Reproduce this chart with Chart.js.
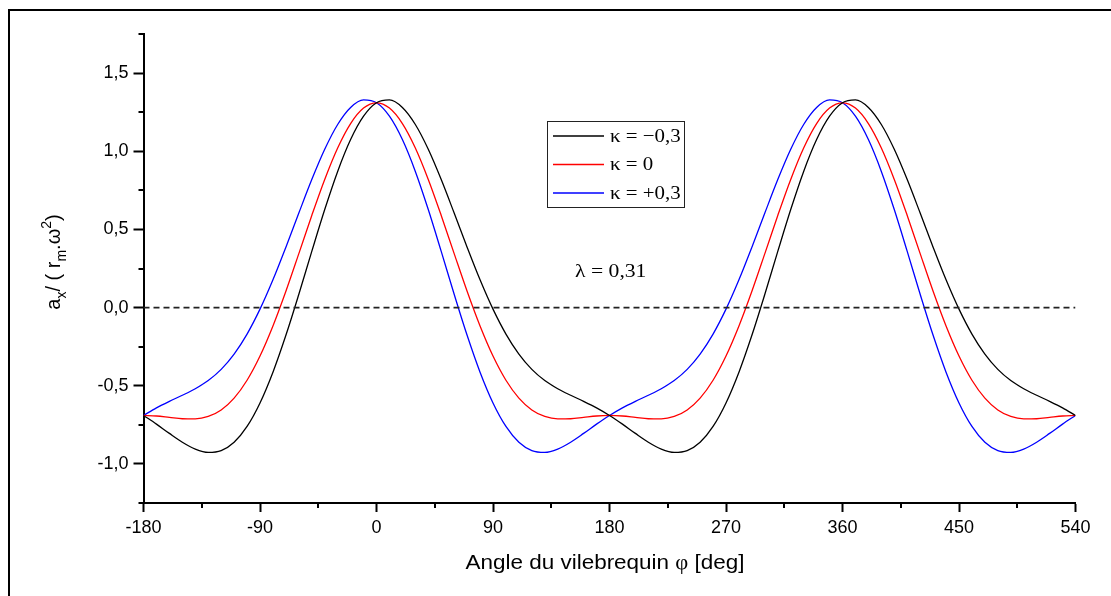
<!DOCTYPE html>
<html>
<head>
<meta charset="utf-8">
<script src="https://cdn.jsdelivr.net/npm/chart.js@4/dist/chart.umd.min.js"></script>
<style>
  html, body { margin: 0; padding: 0; background: #fff; }
  canvas { display: block; }
</style>
</head>
<body>
<canvas id="c" width="1111" height="596" style="width:1111px;height:596px"></canvas>
<script>
// crank angle, deg
const angles = [-180, -170, -160, -150, -140, -130, -120, -110, -100, -90, -80, -70, -60, -50, -40, -30, -20, -10,
  0, 10, 20, 30, 40, 50, 60, 70, 80, 90, 100, 110, 120, 130, 140, 150, 160, 170,
  180, 190, 200, 210, 220, 230, 240, 250, 260, 270, 280, 290, 300, 310, 320, 330, 340, 350,
  360, 370, 380, 390, 400, 410, 420, 430, 440, 450, 460, 470, 480, 490, 500, 510, 520, 530, 540];

// kappa = -0,3
const accNeg = [-0.69, -0.7456, -0.8048, -0.861, -0.905, -0.9264, -0.9148, -0.8614, -0.7603, -0.61, -0.4131, -0.1774, 0.0852, 0.3592, 0.627, 0.871, 1.0746, 1.224,
  1.31, 1.3282, 1.2798, 1.171, 1.0126, 0.8188, 0.6048, 0.3864, 0.1777, -0.01, -0.1695, -0.2976, -0.3952, -0.4668, -0.5194, -0.561, -0.5996, -0.6414,
  -0.69, -0.7456, -0.8048, -0.861, -0.905, -0.9264, -0.9148, -0.8614, -0.7603, -0.61, -0.4131, -0.1774, 0.0852, 0.3592, 0.627, 0.871, 1.0746, 1.224,
  1.31, 1.3282, 1.2798, 1.171, 1.0126, 0.8188, 0.6048, 0.3864, 0.1777, -0.01, -0.1695, -0.2976, -0.3952, -0.4668, -0.5194, -0.561, -0.5996, -0.6414, -0.69];

// kappa = 0
const accZero = [-0.69, -0.6935, -0.7022, -0.711, -0.7122, -0.6966, -0.655, -0.5795, -0.4649, -0.31, -0.1177, 0.1045, 0.345, 0.589, 0.8198, 1.021, 1.1772, 1.2761,
  1.31, 1.2761, 1.1772, 1.021, 0.8198, 0.589, 0.345, 0.1045, -0.1177, -0.31, -0.4649, -0.5795, -0.655, -0.6966, -0.7122, -0.711, -0.7022, -0.6935,
  -0.69, -0.6935, -0.7022, -0.711, -0.7122, -0.6966, -0.655, -0.5795, -0.4649, -0.31, -0.1177, 0.1045, 0.345, 0.589, 0.8198, 1.021, 1.1772, 1.2761,
  1.31, 1.2761, 1.1772, 1.021, 0.8198, 0.589, 0.345, 0.1045, -0.1177, -0.31, -0.4649, -0.5795, -0.655, -0.6966, -0.7122, -0.711, -0.7022, -0.6935, -0.69];

// kappa = +0,3
const accPos = [-0.69, -0.6414, -0.5996, -0.561, -0.5194, -0.4668, -0.3952, -0.2976, -0.1695, -0.01, 0.1777, 0.3864, 0.6048, 0.8188, 1.0126, 1.171, 1.2798, 1.3282,
  1.31, 1.224, 1.0746, 0.871, 0.627, 0.3592, 0.0852, -0.1774, -0.4131, -0.61, -0.7603, -0.8614, -0.9148, -0.9264, -0.905, -0.861, -0.8048, -0.7456,
  -0.69, -0.6414, -0.5996, -0.561, -0.5194, -0.4668, -0.3952, -0.2976, -0.1695, -0.01, 0.1777, 0.3864, 0.6048, 0.8188, 1.0126, 1.171, 1.2798, 1.3282,
  1.31, 1.224, 1.0746, 0.871, 0.627, 0.3592, 0.0852, -0.1774, -0.4131, -0.61, -0.7603, -0.8614, -0.9148, -0.9264, -0.905, -0.861, -0.8048, -0.7456, -0.69];

const xTicks = [-180, -90, 0, 90, 180, 270, 360, 450, 540];
const xMinor = [-135, -45, 45, 135, 225, 315, 405, 495];
const yTicks = [-1.0, -0.5, 0.0, 0.5, 1.0, 1.5];
const yMinor = [-1.25, -0.75, -0.25, 0.25, 0.75, 1.25, 1.75];

const legendLabels = ['\u03ba = \u22120,3', '\u03ba = 0', '\u03ba = +0,3'];
const colors = ['#000000', '#ff0000', '#0000ff'];

function pts(ys) {
  return angles.map(function (a, i) { return { x: a, y: ys[i] }; });
}

// text a bit wider than the font gives, like the original export
function wideText(ctx, txt, x, y, sx) {
  ctx.save();
  ctx.translate(x, y);
  ctx.scale(sx, 1);
  ctx.fillText(txt, 0, 0);
  ctx.restore();
}

// frame, minor ticks, legend, titles
const decor = {
  id: 'decor',
  beforeDraw: function (chart) {
    const ctx = chart.ctx;
    ctx.save();
    ctx.fillStyle = '#fff';
    ctx.fillRect(0, 0, chart.width, chart.height);
    ctx.restore();
  },
  afterDraw: function (chart) {
    const ctx = chart.ctx;
    const a = chart.chartArea;
    const x = chart.scales.x, y = chart.scales.y;
    ctx.save();
    ctx.fillStyle = '#000';
    ctx.fillRect(8, 9, chart.width - 8, 2);
    ctx.fillRect(8, 9, 2, chart.height - 9);

    // minor ticks
    ctx.strokeStyle = '#000';
    ctx.lineWidth = 2;
    ctx.beginPath();
    xMinor.forEach(function (v) {
      const px = Math.round(x.getPixelForValue(v));
      ctx.moveTo(px, a.bottom); ctx.lineTo(px, a.bottom + 5);
    });
    yMinor.forEach(function (v) {
      const py = Math.round(y.getPixelForValue(v));
      ctx.moveTo(a.left, py); ctx.lineTo(a.left - 5, py);
    });
    ctx.stroke();

    // legend
    ctx.lineWidth = 1;
    ctx.strokeStyle = '#222';
    ctx.strokeRect(547.5, 121.5, 137, 86);
    const rows = [136, 164.5, 193];
    ctx.font = '19px "Liberation Serif", "DejaVu Serif", serif';
    ctx.textBaseline = 'middle';
    ctx.textAlign = 'left';
    rows.forEach(function (ry, i) {
      ctx.strokeStyle = colors[i];
      ctx.lineWidth = 1.3;
      ctx.beginPath();
      ctx.moveTo(553, ry); ctx.lineTo(604, ry);
      ctx.stroke();
      ctx.fillStyle = '#000';
      wideText(ctx, legendLabels[i], 610, ry + 1, 1.1);
    });

    // lambda
    ctx.textBaseline = 'alphabetic';
    wideText(ctx, '\u03bb = 0,31', 575, 277, 1.14);

    // x title
    const sans = '"Liberation Sans", Arial, sans-serif';
    const sx = 1.07;
    const xParts = [
      ['Angle du vilebrequin ', '21px ' + sans],
      ['\u03c6', '21px "Liberation Serif", serif'],
      [' [deg]', '21px ' + sans]
    ];
    let w = 0;
    xParts.forEach(function (p) { ctx.font = p[1]; w += ctx.measureText(p[0]).width * sx; });
    let cx = 605 - w / 2;
    xParts.forEach(function (p) {
      ctx.font = p[1];
      wideText(ctx, p[0], cx, 569, sx);
      cx += ctx.measureText(p[0]).width * sx;
    });

    // y title, rotated
    const yParts = [
      ['a', 20, 0], ['x', 14, 6], ['/ ( r', 20, 0], ['m', 14, 6], ['.\u03c9', 20, 0], ['2', 14, -9], [')', 20, 0]
    ];
    ctx.translate(60, 262);
    ctx.rotate(-Math.PI / 2);
    w = 0;
    yParts.forEach(function (p) { ctx.font = p[1] + 'px ' + sans; w += ctx.measureText(p[0]).width; });
    cx = -w / 2;
    yParts.forEach(function (p) {
      ctx.font = p[1] + 'px ' + sans;
      ctx.fillText(p[0], cx, p[2]);
      cx += ctx.measureText(p[0]).width;
    });
    ctx.restore();
  }
};

const tickFont = { family: '"Liberation Sans", Arial, sans-serif', size: 18 };

new Chart(document.getElementById('c'), {
  type: 'line',
  data: {
    datasets: [
      { label: 'zero', data: [{ x: -180, y: 0 }, { x: 540, y: 0 }], borderColor: '#222', borderWidth: 1.6, borderDash: [6, 4], tension: 0 },
      { label: legendLabels[0], data: pts(accNeg), borderColor: colors[0], borderWidth: 1.3 },
      { label: legendLabels[1], data: pts(accZero), borderColor: colors[1], borderWidth: 1.3 },
      { label: legendLabels[2], data: pts(accPos), borderColor: colors[2], borderWidth: 1.3 }
    ]
  },
  options: {
    responsive: false,
    animation: false,
    layout: { padding: { left: 0, top: 34, right: 35.5, bottom: 0 } },
    elements: {
      point: { radius: 0 },
      line: { cubicInterpolationMode: 'monotone', fill: false }
    },
    plugins: { legend: { display: false }, tooltip: { enabled: false } },
    scales: {
      x: {
        type: 'linear', min: -180, max: 540,
        afterBuildTicks: function (s) { s.ticks = xTicks.map(function (v) { return { value: v }; }); },
        afterFit: function (s) { s.height = 93; },
        grid: { drawOnChartArea: false, drawTicks: true, tickLength: 9, tickWidth: 2, tickColor: '#000' },
        border: { display: true, color: '#000', width: 2 },
        ticks: { color: '#000', font: tickFont, padding: 5, maxRotation: 0, autoSkip: false }
      },
      y: {
        type: 'linear', min: -1.25, max: 1.75,
        afterBuildTicks: function (s) { s.ticks = yTicks.map(function (v) { return { value: v }; }); },
        afterFit: function (s) { s.width = 143.5; },
        grid: { drawOnChartArea: false, drawTicks: true, tickLength: 10, tickWidth: 2, tickColor: '#000' },
        border: { display: true, color: '#000', width: 2 },
        ticks: {
          color: '#000', font: tickFont, padding: 5,
          callback: function (v) { return v.toFixed(1).replace('.', ','); }
        }
      }
    }
  },
  plugins: [decor]
});
</script>
</body>
</html>
